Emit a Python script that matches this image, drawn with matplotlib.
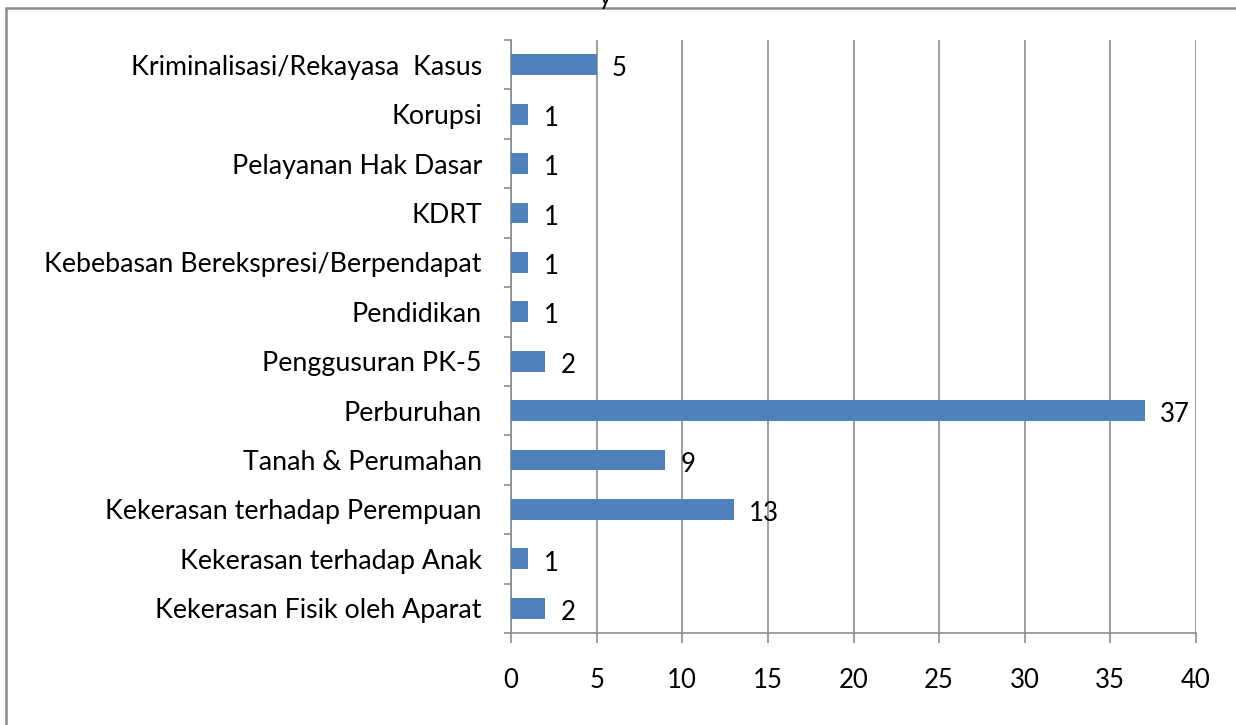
import matplotlib.pyplot as plt
from matplotlib.patches import Rectangle

CATEGORIES = [
    'Kriminalisasi/Rekayasa  Kasus',
    'Korupsi',
    'Pelayanan Hak Dasar',
    'KDRT',
    'Kebebasan Berekspresi/Berpendapat',
    'Pendidikan',
    'Penggusuran PK-5',
    'Perburuhan',
    'Tanah & Perumahan',
    'Kekerasan terhadap Perempuan',
    'Kekerasan terhadap Anak',
    'Kekerasan Fisik oleh Aparat',
]
COUNTS = [5, 1, 1, 1, 1, 1, 2, 37, 9, 13, 1, 2]
X_TICKS = [0, 5, 10, 15, 20, 25, 30, 35, 40]

BAR_COLOR = '#4F81BD'
GRID_COLOR = '#8c8c8c'


def main():
    plt.rcParams['font.family'] = ['Lato', 'DejaVu Sans']

    fig = plt.figure(figsize=(12.36, 7.25), dpi=100)
    ax = fig.add_axes([511 / 1236, 1 - 633 / 725, 685 / 1236, 593 / 725])

    # outer frame of the chart area (partially cut off in the original)
    fig.patches.append(Rectangle((6 / 1236, -0.1), 1.2, 1 - 8 / 725 + 0.1,
                                 transform=fig.transFigure, fill=False,
                                 edgecolor='#8c8c8c', lw=1.8))
    # descender of the title that is cut off above the picture
    fig.text(0.49, 1.004, 'y', ha='center', va='center', fontsize=18)

    n = len(CATEGORIES)
    ypos = list(range(n))[::-1]
    ax.barh(ypos, COUNTS, height=0.42, color=BAR_COLOR, zorder=3)

    for y, v in zip(ypos, COUNTS):
        ax.annotate(str(v), (v, y), xytext=(11, -3), textcoords='offset points',
                    ha='left', va='center', fontsize=18.5, color='black')

    ax.set_xlim(0, 40)
    ax.set_ylim(-0.5, n - 0.5)
    ax.set_xticks(X_TICKS)
    ax.set_yticks(ypos)
    ax.set_yticklabels(CATEGORIES)
    ax.set_yticks([i - 0.5 for i in range(n + 1)], minor=True)

    ax.tick_params(axis='y', which='major', length=0, pad=21, labelsize=19.3)
    ax.tick_params(axis='y', which='minor', length=5, color=GRID_COLOR, width=1.2)
    ax.tick_params(axis='x', length=7, color=GRID_COLOR, width=1.2, pad=18.5,
                   labelsize=18.5)

    ax.grid(axis='x', color=GRID_COLOR, lw=1.2, zorder=0)
    ax.spines['top'].set_visible(False)
    ax.spines['right'].set_visible(False)
    ax.spines['left'].set_color(GRID_COLOR)
    ax.spines['bottom'].set_color(GRID_COLOR)
    ax.spines['left'].set_linewidth(1.2)
    ax.spines['bottom'].set_linewidth(1.2)

    fig.savefig('out.png', dpi=100)


if __name__ == '__main__':
    main()
